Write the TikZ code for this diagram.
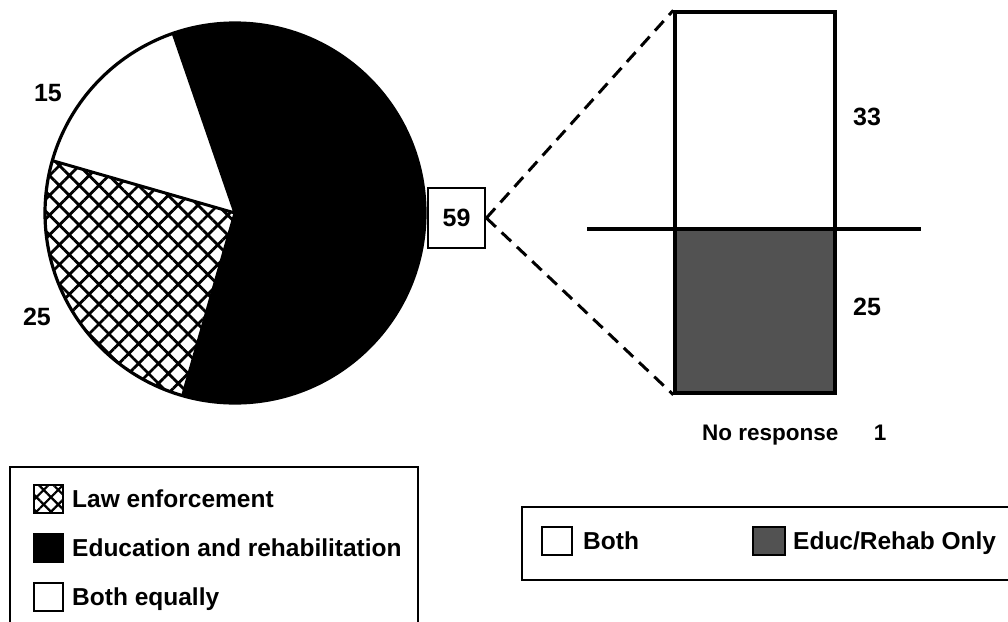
\documentclass[tikz,border=0pt]{standalone}
\usepackage{fontspec}
\setmainfont{Liberation Sans}
\usetikzlibrary{patterns.meta}
\begin{document}
\begin{tikzpicture}[x=1pt,y=-1pt]
\tikzset{
  lbl/.style={font=\bfseries\fontsize{24.5}{29}\selectfont, inner sep=0pt},
  numlbl/.style={font=\bfseries\fontsize{25}{30}\selectfont, inner sep=0pt},
  nrlbl/.style={font=\bfseries\fontsize{22.5}{27}\selectfont, inner sep=0pt},
  hatchfill/.style={pattern={Hatch[angle=45,distance=14pt,line width=2.8pt]}, pattern color=black},
  swhatch/.style={pattern={Hatch[angle=45,distance=10.3pt,line width=2.2pt]}, pattern color=black},
  swatch/.style={draw, line width=2.6pt, minimum width=29pt, minimum height=28pt, inner sep=0pt},
  frame/.style={draw, line width=2.8pt},
  dashconn/.style={line width=3pt, dash pattern=on 13pt off 8pt},
  barbox/.style={draw, line width=3.4pt, inner sep=0pt, minimum width=160pt},
  educfill/.style={fill=black!68}
}
\path[use as bounding box, fill=white] (0,0) rectangle (1008,621);

% pie
\coordinate (C) at (235,213);
\fill[white] (C) -- ++(109:190pt) arc[start angle=109,end angle=164,radius=190pt] -- cycle;
\path[hatchfill] (C) -- ++(164:190pt) arc[start angle=164,end angle=254,radius=190pt] -- cycle;
\fill[black] (C) -- ++(254:190pt) arc[start angle=254,end angle=469,radius=190pt] -- cycle;
\draw[line width=3pt] (C) -- ++(109:190pt) (C) -- ++(164:190pt) (C) -- ++(254:190pt);
\draw[line width=3.2pt] (C) circle[radius=190pt];

\node[numlbl] (n15) at (48,93) {15};
\node[numlbl] (n25) at (37,317) {25};

% 59 box
\node[frame, numlbl, minimum width=57pt, minimum height=60pt] (b59) at (456.5,218) {59};

% bar
\node[barbox, minimum height=217pt] (bothbar) at (755,120.5) {};
\node[barbox, educfill, minimum height=164pt] (educbar) at (755,311) {};
\coordinate (hl) at (587,229);
\coordinate (hr) at (921,229);
\draw[line width=4pt] (hl) -- (hr);

\draw[dashconn] (b59.east) -- (bothbar.north west);
\draw[dashconn] (b59.east) -- (educbar.south west);

\node[numlbl] (n33) at (867,117) {33};
\node[numlbl] (n25b) at (867,307) {25};
\node[nrlbl, anchor=base west] (nr) at (702,440.5) {No response};
\node[nrlbl, anchor=base] (n1) at (880,440.5) {1};

% legend 1
\draw[frame] (10,467) rectangle (418,650);
\node[swatch, swhatch] (sw1) at (48.5,499) {};
\node[swatch, fill=black] (sw2) at (48.5,548) {};
\node[swatch] (sw3) at (48.5,597) {};
\node[lbl, anchor=base west] (t1) at (72,507.8) {Law enforcement};
\node[lbl, anchor=base west] (t2) at (72,556.8) {Education and rehabilitation};
\node[lbl, anchor=base west] (t3) at (72,605.8) {Both equally};

% legend 2
\draw[frame] (522,507) rectangle (1030,580);
\node[swatch, minimum width=30pt] (sb) at (557,541) {};
\node[swatch, educfill, minimum width=32pt] (se) at (769,541) {};
\node[lbl, anchor=base west] (tb) at (583,549.5) {Both};
\node[lbl, anchor=base west] (te) at (793,549.5) {Educ/Rehab Only};
\end{tikzpicture}
\end{document}
